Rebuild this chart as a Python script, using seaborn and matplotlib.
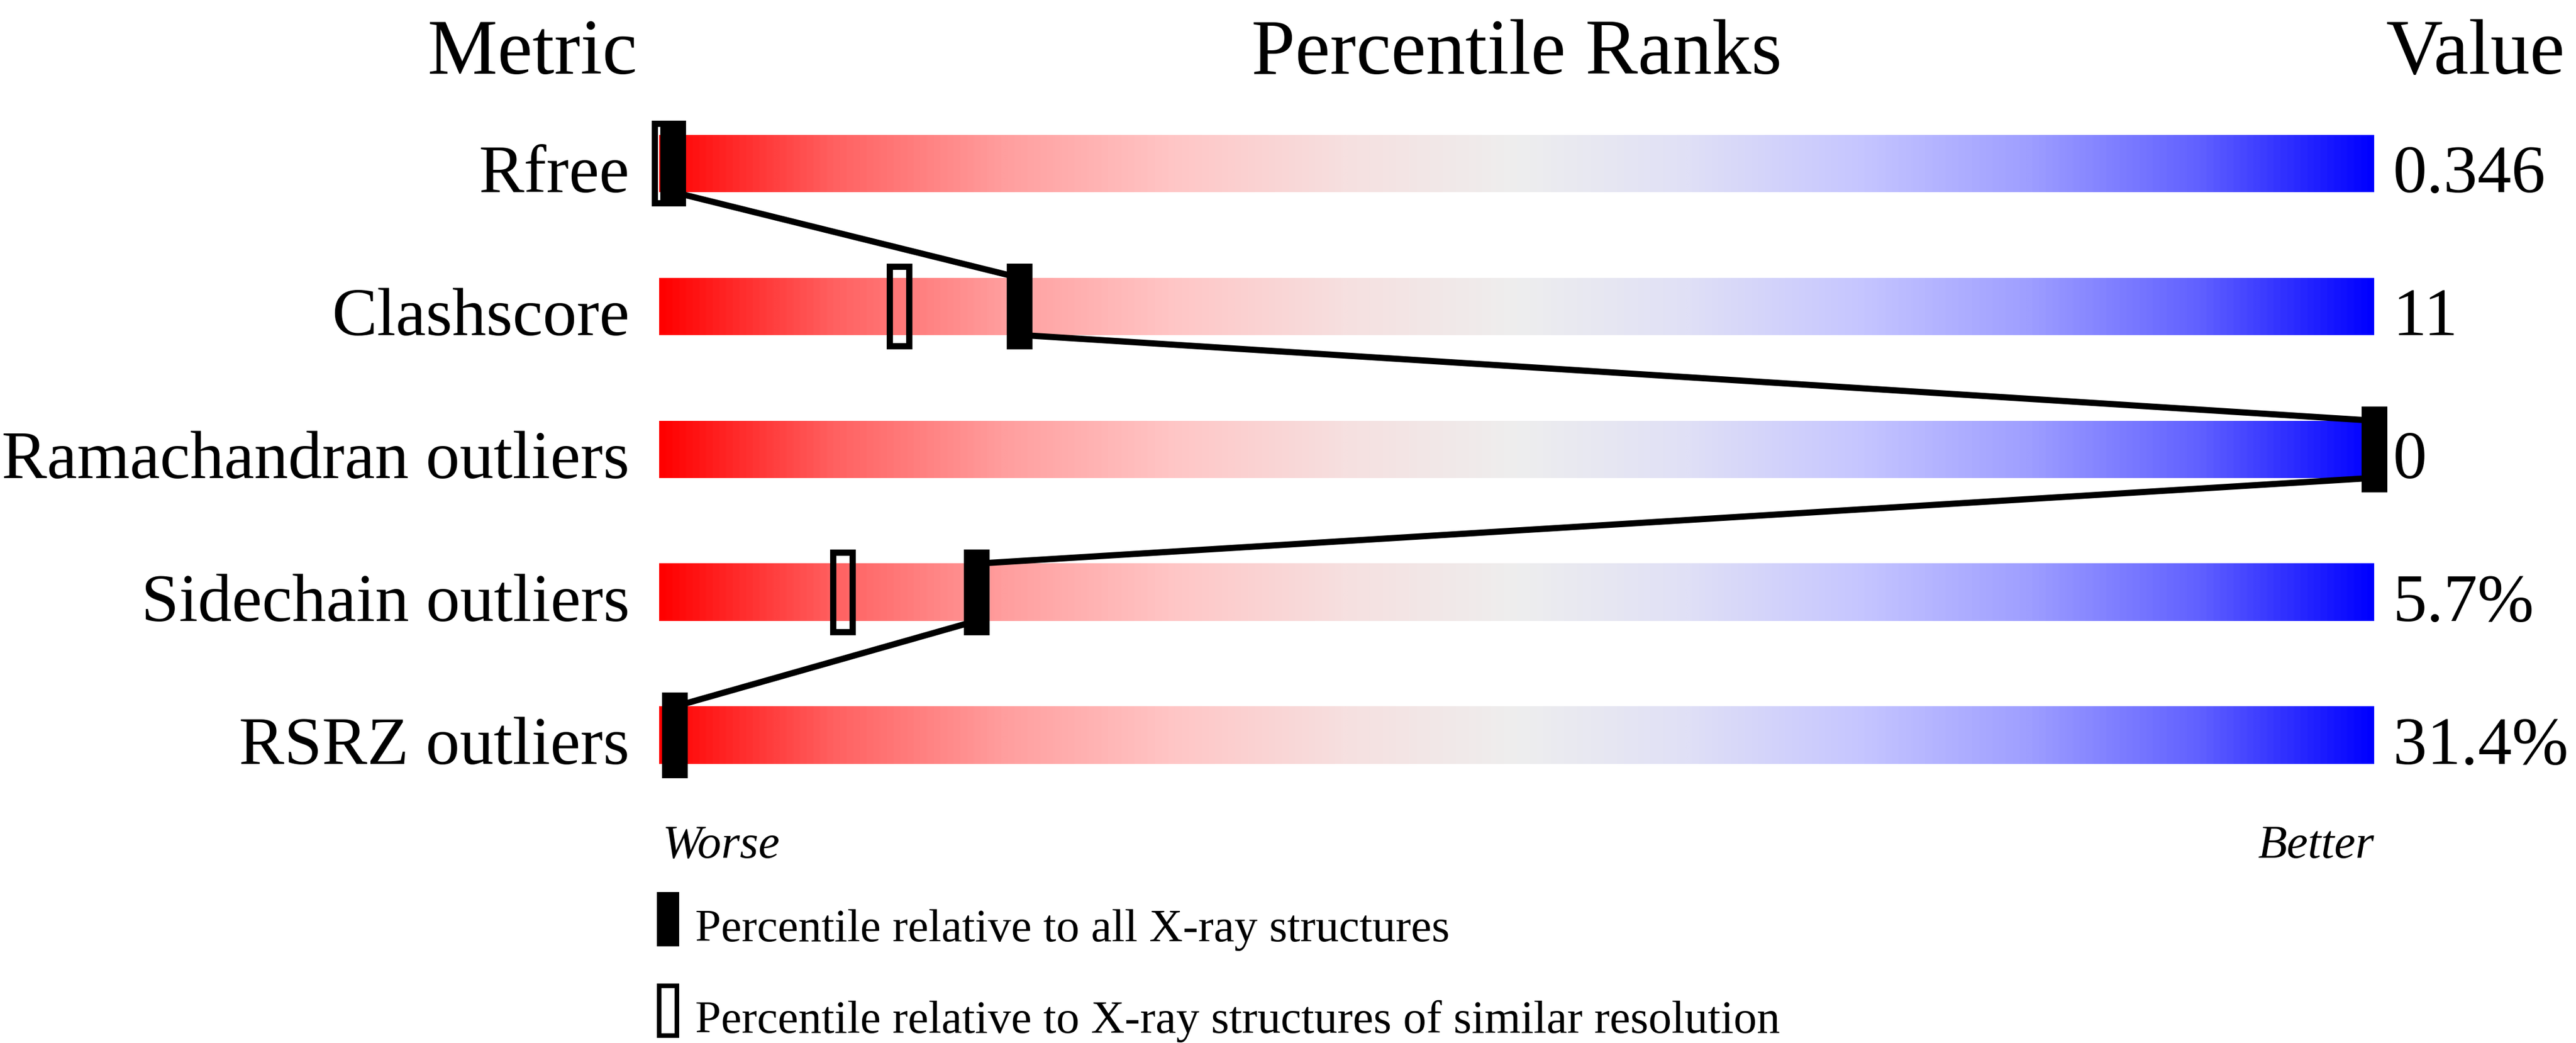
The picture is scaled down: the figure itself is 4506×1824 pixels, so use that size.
import numpy as np
import pandas as pd
import matplotlib
matplotlib.use("Agg")
import matplotlib.pyplot as plt
from matplotlib.colors import LinearSegmentedColormap
import seaborn as sns

# chart data
metrics = ["Rfree", "Clashscore", "Ramachandran outliers", "Sidechain outliers", "RSRZ outliers"]
values = ["0.346", "11", "0", "5.7%", "31.4%"]
pct_all = [0.8, 21, 100, 18.5, 0.9]        # percentile vs all X-ray structures
pct_similar = [0.3, 14, 100, 10.7, 0.9]    # percentile vs similar resolution
legend_labels = ["Percentile relative to all X-ray structures",
                 "Percentile relative to X-ray structures of similar resolution"]

sns.set_theme(style="white")
plt.rcParams['font.family'] = ['Liberation Serif', 'DejaVu Serif']
plt.rcParams['text.color'] = 'black'

# layout: 300 dpi, x in percentile units (30 px per %), y in row units (250 px per row)
fig = plt.figure(figsize=(15.02, 6.08), dpi=300)
ax = fig.add_axes([0, 0, 1, 1])

bar_h = 0.4
mark_h = 0.6
mark_w = 1.5
lw = 2.6
edge_px = lw * 300 / 72

cmap = LinearSegmentedColormap.from_list("pr", [
    (0.0, "#ff0000"), (0.1, "#ff6060"), (0.2, "#ff9e9e"), (0.3, "#ffc6c6"),
    (0.4, "#f6e0e0"), (0.5, "#eeeeee"), (0.6, "#e0e0f6"), (0.7, "#c6c6ff"),
    (0.8, "#9e9eff"), (0.9, "#6060ff"), (1.0, "#0000ff")])
ramp = np.linspace(0, 1, 1024).reshape(1, -1)

rows = np.arange(len(metrics))
for i in rows:
    ax.imshow(ramp, extent=[0, 100, i + bar_h / 2, i - bar_h / 2],
              aspect='auto', cmap=cmap, zorder=1, interpolation='bilinear')

# zig-zag line joining the filled markers
pts = []
for i, p in zip(rows, pct_all):
    pts.append((p, i - bar_h / 2))
    pts.append((p, i + bar_h / 2))
line_df = pd.DataFrame(pts, columns=["pct", "row"])
sns.lineplot(data=line_df, x="pct", y="row", sort=False, estimator=None,
             color="black", linewidth=lw, ax=ax, zorder=2)

# open markers (similar resolution)
open_h = mark_h - edge_px / 250
ax.bar(pct_similar, open_h, bottom=rows - open_h / 2,
       width=mark_w - edge_px / 30, facecolor="none", edgecolor="black",
       linewidth=lw, zorder=3)
# filled markers (all structures)
ax.bar(pct_all, mark_h, bottom=rows - mark_h / 2, width=mark_w,
       color="black", linewidth=0, zorder=4)

# titles
ax.text(-7.4, -0.627, "Metric", ha="center", va="baseline", fontsize=33)
ax.text(50, -0.627, "Percentile Ranks", ha="center", va="baseline", fontsize=33)
ax.text(105.9, -0.627, "Value", ha="center", va="baseline", fontsize=33)

for i, (m, v) in enumerate(zip(metrics, values)):
    ax.text(-1.73, i + 0.2, m, ha="right", va="baseline", fontsize=28.5)
    ax.text(101.1, i + 0.2, v, ha="left", va="baseline", fontsize=28.5)

ax.text(0.17, 4.857, "Worse", ha="left", va="baseline", fontsize=20, style="italic")
ax.text(100, 4.857, "Better", ha="right", va="baseline", fontsize=20, style="italic")

# legend
leg_y = [5.287, 5.929]
ax.bar([0.53], [0.38], bottom=[leg_y[0] - 0.19], width=1.3, color="black", linewidth=0)
ax.bar([0.53], [0.38 - 8 / 250], bottom=[leg_y[1] - (0.38 - 8 / 250) / 2],
       width=1.3 - 8 / 30, facecolor="none", edgecolor="black", linewidth=8 / 300 * 72)
ax.text(2.1, 5.443, legend_labels[0], ha="left", va="baseline", fontsize=19.5)
ax.text(2.1, 6.083, legend_labels[1], ha="left", va="baseline", fontsize=19.5)

ax.set_xlim(-1153 / 30, (4506 - 1153) / 30)
ax.set_ylim((1824 - 285.7) / 250, -285.7 / 250)
ax.set_axis_off()
if ax.get_legend() is not None:
    ax.get_legend().remove()

fig.savefig("out.png", dpi=300, facecolor="white")
